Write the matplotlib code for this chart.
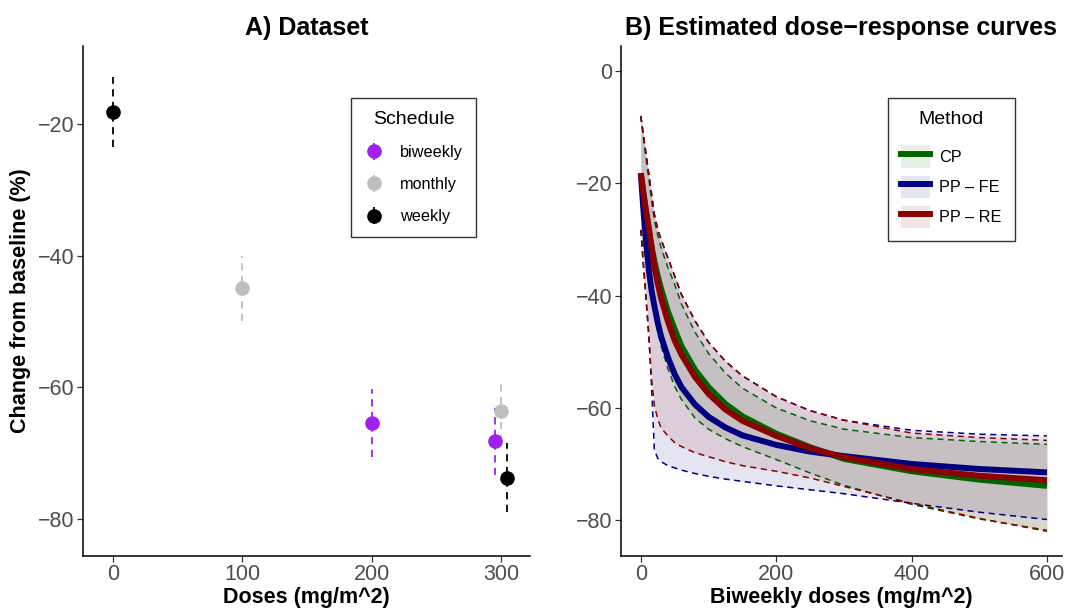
import matplotlib
matplotlib.use('Agg')
import matplotlib.pyplot as plt
from matplotlib.lines import Line2D
from matplotlib.patches import Patch

plt.rcParams['font.family'] = ['Liberation Sans', 'DejaVu Sans']

# ---- panel A: observed data (mean and interval per schedule)
obs_schedule = ['weekly', 'monthly', 'biweekly', 'biweekly', 'monthly', 'weekly']
obs_dose = [0, 100, 200, 300, 300, 300]
obs_mean = [-18.2, -44.9, -65.4, -68.2, -63.6, -73.8]
obs_low = [-23.5, -49.9, -70.6, -73.4, -68.4, -78.9]
obs_high = [-12.9, -40.0, -60.2, -63.2, -58.8, -68.5]
schedule_names = ['biweekly', 'monthly', 'weekly']
schedule_colors = {'biweekly': '#A020F0', 'monthly': '#BEBEBE', 'weekly': '#000000'}

# ---- panel B: estimated curves
grid = [0, 4, 8, 12, 16, 20, 25, 30, 40, 50, 60, 80, 100, 125, 150, 200, 250, 300, 400, 500, 600]

cp_mean = [-18.2, -22.0, -25.5, -28.6, -31.4, -33.8, -36.5, -38.8, -42.8, -46.0, -49.0, -53.2,
           -56.3, -59.3, -61.5, -64.6, -67.0, -69.1, -71.3, -72.8, -73.9]
cp_low = [-28.3, -31.0, -34.0, -37.0, -40.0, -43.0, -46.5, -49.0, -53.0, -56.2, -58.5, -61.8,
          -63.8, -65.5, -66.9, -69.2, -71.6, -73.8, -77.2, -79.8, -81.8]
cp_high = [-8.0, -12.0, -15.8, -19.3, -23.2, -26.5, -29.3, -31.5, -35.0, -38.0, -41.5, -46.5,
           -50.3, -53.8, -56.5, -60.0, -62.3, -63.8, -65.3, -66.0, -66.5]

fe_mean = [-18.2, -25.0, -30.5, -35.5, -39.2, -41.8, -44.8, -47.3, -51.0, -54.0, -56.3, -59.4,
           -61.6, -63.5, -64.9, -66.6, -67.8, -68.6, -70.0, -70.9, -71.5]
fe_low = [-28.3, -35.0, -41.0, -47.0, -56.5, -67.5, -69.0, -69.6, -70.3, -70.7, -71.1, -71.7,
          -72.2, -72.7, -73.1, -73.9, -74.6, -75.3, -77.0, -78.6, -79.9]
fe_high = [-8.0, -11.5, -15.0, -18.5, -22.0, -25.5, -28.2, -30.0, -33.3, -36.5, -39.8, -44.5,
           -48.3, -51.7, -54.3, -58.0, -60.5, -62.2, -64.0, -64.7, -65.0]

re_mean = [-18.2, -21.8, -25.0, -28.0, -31.5, -34.8, -37.8, -40.5, -44.6, -48.0, -50.5, -54.5,
           -57.5, -60.3, -62.3, -65.0, -67.2, -68.8, -70.9, -72.1, -72.9]
re_low = [-28.3, -34.5, -41.0, -48.0, -55.0, -59.5, -62.0, -63.6, -65.0, -66.2, -66.9, -68.0,
          -68.7, -69.6, -70.3, -71.3, -72.5, -74.0, -77.0, -79.7, -82.0]
re_high = [-8.0, -11.5, -15.0, -18.5, -22.0, -25.5, -28.2, -30.0, -33.3, -36.5, -39.8, -44.5,
           -48.3, -51.7, -54.3, -58.0, -60.5, -62.2, -64.5, -65.3, -65.8]

methods = ['CP', 'PP \u2013 FE', 'PP \u2013 RE']
method_colors = ['#006400', '#000080', '#8B0000']
curves = [(cp_mean, cp_low, cp_high), (fe_mean, fe_low, fe_high), (re_mean, re_low, re_high)]

W, H = 1065, 609
fig = plt.figure(figsize=(W / 100, H / 100), dpi=100)
top_px, bot_px = 46, 556
axA = fig.add_axes([83 / W, 1 - bot_px / H, (530 - 83) / W, (bot_px - top_px) / H])
axB = fig.add_axes([620.7 / W, 1 - bot_px / H, (1062 - 620.7) / W, (bot_px - top_px) / H])


def style_axes(ax):
	for s in ['top', 'right']:
		ax.spines[s].set_visible(False)
	for s in ['left', 'bottom']:
		ax.spines[s].set_linewidth(1.1)
	ax.tick_params(direction='out', length=4, width=0.9, color='#333333',
				   labelsize=15.5, labelcolor='#4D4D4D', pad=2)


# ---- panel A
dodge = {'biweekly': -5, 'monthly': 0, 'weekly': 5}
handles = {}
for name in schedule_names:
	xs, ys, lo, hi = [], [], [], []
	for s, d, m, l, h in zip(obs_schedule, obs_dose, obs_mean, obs_low, obs_high):
		if s != name:
			continue
		shared = obs_dose.count(d) > 1
		xs.append(d + (dodge[s] if shared else 0))
		ys.append(m)
		lo.append(m - l)
		hi.append(h - m)
	eb = axA.errorbar(xs, ys, yerr=[lo, hi], fmt='o', color=schedule_colors[name], ms=9.5,
					  elinewidth=1.3, capsize=0, label=name, zorder=3)
	eb[2][0].set_linestyle((0, (4, 3)))
	handles[name] = eb

axA.set_xlim(-23.2, 322.4)
axA.set_ylim(-85.65, -8.15)
axA.set_xticks([0, 100, 200, 300])
axA.set_yticks([-20, -40, -60, -80])
style_axes(axA)
axA.set_xlabel('Doses (mg/m^2)', fontsize=15.5, fontweight='bold', labelpad=1)
axA.set_ylabel('Change from baseline (%)', fontsize=15.5, fontweight='bold', labelpad=5)
axA.set_title('A) Dataset', fontsize=18, fontweight='bold', pad=8)
legA = axA.legend([handles[n] for n in schedule_names], schedule_names, title='Schedule',
				  loc='upper left', bbox_to_anchor=(0.6, 0.898), borderaxespad=0,
				  frameon=True, fancybox=False, edgecolor='black', fontsize=11.7,
				  title_fontsize=14, handlelength=1.2, borderpad=0.8, labelspacing=1.05,
				  handletextpad=1.0)
legA.get_frame().set_linewidth(1.0)

# ---- panel B
for (mean, low, high), c in zip(curves, method_colors):
	axB.fill_between(grid, low, high, color=c, alpha=0.1, lw=0)
for (mean, low, high), c in zip(curves, method_colors):
	axB.plot(grid, low, color=c, lw=1.1, ls=(0, (4, 3)))
	axB.plot(grid, high, color=c, lw=1.1, ls=(0, (4, 3)))
for (mean, low, high), c in zip(curves, method_colors):
	axB.plot(grid, mean, color=c, lw=4.3, solid_capstyle='butt')

axB.set_xlim(-29.7, 622.2)
axB.set_ylim(-86.4, 4.47)
axB.set_xticks([0, 200, 400, 600])
axB.set_yticks([0, -20, -40, -60, -80])
style_axes(axB)
axB.set_xlabel('Biweekly doses (mg/m^2)', fontsize=15.5, fontweight='bold', labelpad=1)
axB.set_title('B) Estimated dose\u2212response curves', fontsize=18, fontweight='bold', pad=8)
hB = [(Patch(facecolor=c, alpha=0.1, lw=0), Line2D([], [], color=c, lw=4.3)) for c in method_colors]
legB = axB.legend(hB, methods, title='Method', loc='upper left', bbox_to_anchor=(0.606, 0.898),
				  borderaxespad=0, frameon=True, fancybox=False, edgecolor='black', fontsize=11.7,
				  title_fontsize=14, handlelength=1.8, handleheight=1.72,
				  borderpad=0.8, labelspacing=0.5, handletextpad=0.55)
legB.get_frame().set_linewidth(1.0)
# a little more room between the legend title and its entries
legB._legend_box.sep = 12.5

fig.savefig('out.png', dpi=100)
